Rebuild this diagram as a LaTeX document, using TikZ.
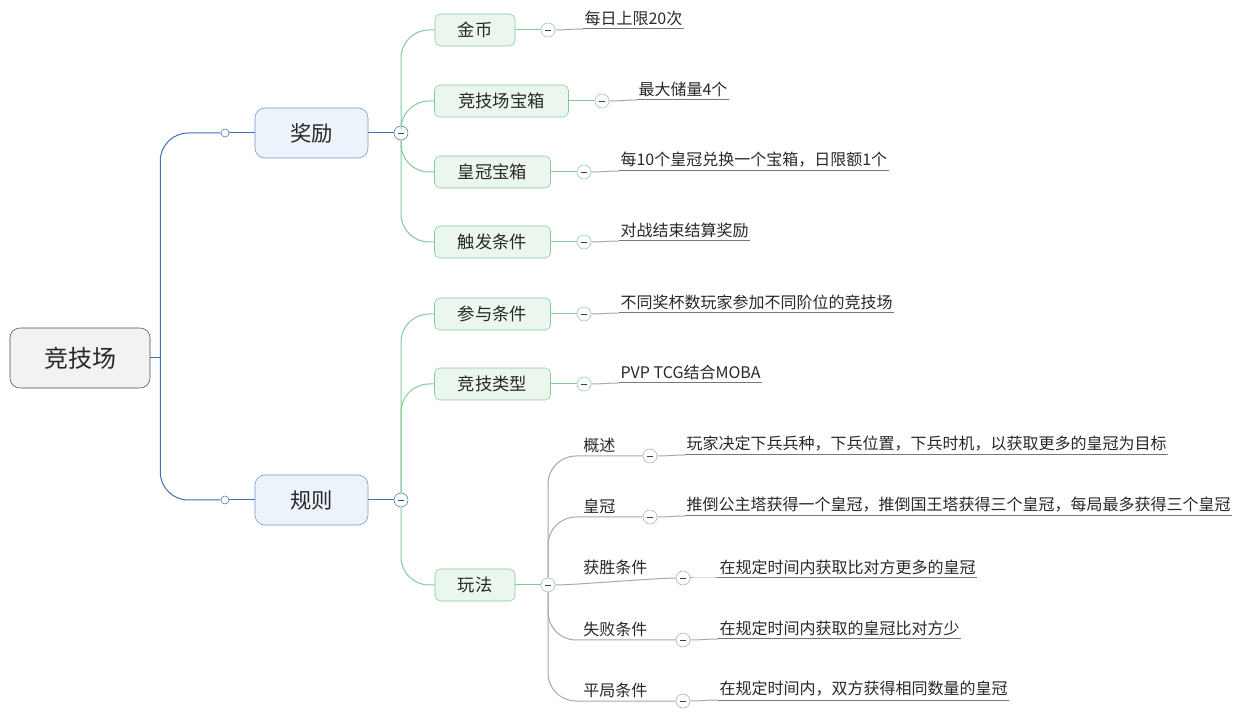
\documentclass[tikz,border=0pt]{standalone}
\usepackage{fontspec}
\setmainfont{Noto Sans CJK SC}
\definecolor{blu}{RGB}{62,112,182}
\definecolor{bluf}{RGB}{237,243,251}
\definecolor{blub}{RGB}{112,150,204}
\definecolor{grn}{RGB}{132,202,154}
\definecolor{grnf}{RGB}{235,246,239}
\definecolor{gry}{RGB}{168,168,168}
\definecolor{dkg}{RGB}{120,120,120}
\definecolor{txt}{RGB}{40,40,40}

\begin{document}
\begin{tikzpicture}[x=0.75pt,y=-0.75pt,text=txt,
  root/.style={draw=black!70,fill=black!5,rounded corners=7.5pt,minimum width=105pt,minimum height=45pt,font=\fontsize{18}{20}\selectfont},
  main/.style={draw=blub,fill=bluf,rounded corners=7.5pt,minimum width=84.75pt,minimum height=37.5pt,font=\fontsize{16}{18}\selectfont},
  sub/.style={draw=grn,fill=grnf,rounded corners=4pt,minimum height=24pt,font=\fontsize{13}{15}\selectfont},
  leaf/.style={anchor=south west,inner xsep=1pt,inner ysep=2.5pt,font=\fontsize{12}{14}\selectfont},
  tpc/.style={leaf,inner xsep=0pt},
  fold/.style={circle,draw=#1,fill=white,minimum size=10.5pt,inner sep=0pt,path picture={\draw[line width=0.6pt,black!75] ([xshift=-2.6pt]path picture bounding box.center) -- ([xshift=2.6pt]path picture bounding box.center);}},
  dot/.style={circle,draw=blu,fill=white,minimum size=6pt,inner sep=0pt},
  bl/.style={blu,line width=0.75pt},
  gl/.style={grn,line width=0.75pt},
  lt/.style={gry,line width=0.75pt},
  ul/.style={dkg,line width=0.75pt}]
\useasboundingbox (0,0) rectangle (1240,716);
\node[root] (R) at (80,358) {竞技场};
\node[main] (J) at (311.5,133) {奖励};
\node[main] (G) at (311.5,500) {规则};
\node[dot] (d1) at (225,133) {};
\node[dot] (d2) at (225,500) {};
\node[fold=blu] (fJ) at (401,133) {};
\node[fold=blu] (fG) at (401,500) {};
\node[sub,minimum width=60pt] (jb) at (475,30) {金币};
\node[sub,minimum width=100.5pt] (bx) at (501.5,101) {竞技场宝箱};
\node[sub,minimum width=87pt] (hg) at (492.5,172) {皇冠宝箱};
\node[sub,minimum width=87pt] (cf) at (492.5,242) {触发条件};
\node[sub,minimum width=87pt] (cy) at (492.5,314) {参与条件};
\node[sub,minimum width=87pt] (lx) at (492.5,384) {竞技类型};
\node[sub,minimum width=60pt] (wf) at (475,585) {玩法};
\node[fold=grn] (f1) at (548,30) {};
\node[fold=grn] (f2) at (602,101) {};
\node[fold=grn] (f3) at (584,172) {};
\node[fold=grn] (f4) at (584,242) {};
\node[fold=grn] (f5) at (584,314) {};
\node[fold=grn] (f6) at (584,384) {};
\node[fold=grn] (fW) at (548,585) {};
\node[leaf] (l1) at (583,29) {每日上限20次};
\node[leaf] (l2) at (637,100) {最大储量4个};
\node[leaf] (l3) at (619,171) {每10个皇冠兑换一个宝箱，日限额1个};
\node[leaf] (l4) at (619,241) {对战结束结算奖励};
\node[leaf] (l5) at (619,313) {不同奖杯数玩家参加不同阶位的竞技场};
\node[leaf] (l6) at (619,383) {PVP TCG结合MOBA};
\node[fold=gry] (k1) at (650,456) {};
\node[fold=gry] (k2) at (650,517) {};
\node[fold=gry] (k3) at (683,578) {};
\node[fold=gry] (k4) at (683,640) {};
\node[fold=gry] (k5) at (683,701) {};
\node[tpc] (t1) at (583,456) {概述};
\node[tpc] (t2) at (583,517) {皇冠};
\node[tpc] (t3) at (583,578) {获胜条件};
\node[tpc] (t4) at (583,640) {失败条件};
\node[tpc] (t5) at (583,701) {平局条件};
\node[leaf] (m1) at (685,455) {玩家决定下兵兵种，下兵位置，下兵时机，以获取更多的皇冠为目标};
\node[leaf] (m2) at (685,516) {推倒公主塔获得一个皇冠，推倒国王塔获得三个皇冠，每局最多获得三个皇冠};
\node[leaf] (m3) at (718,578) {在规定时间内获取比对方更多的皇冠};
\node[leaf] (m4) at (718,639) {在规定时间内获取的皇冠比对方少};
\node[leaf] (m5) at (718,700) {在规定时间内，双方获得相同数量的皇冠};
\draw[bl] (R.east) -- ++(10,0) coordinate (rj);
\draw[bl,rounded corners=21pt] (rj) |- (d1.west);
\draw[bl,rounded corners=21pt] (rj) |- (d2.west);
\draw[bl] (d1.east) -- (J.west);
\draw[bl] (d2.east) -- (G.west);
\draw[bl] (J.east) -- (fJ.west);
\draw[bl] (G.east) -- (fG.west);
\draw[gl,rounded corners=21pt] (fJ.north) |- (jb.west);
\draw[gl,rounded corners=21pt] (fJ.north) |- (bx.west);
\draw[gl,rounded corners=21pt] (fJ.south) |- (hg.west);
\draw[gl,rounded corners=21pt] (fJ.south) |- (cf.west);
\draw[gl,rounded corners=21pt] (fG.north) |- (cy.west);
\draw[gl,rounded corners=21pt] (fG.north) |- (lx.west);
\draw[gl,rounded corners=21pt] (fG.south) |- (wf.west);
\draw[gl] (jb.east) -- (f1.west);
\draw[gl] (bx.east) -- (f2.west);
\draw[gl] (hg.east) -- (f3.west);
\draw[gl] (cf.east) -- (f4.west);
\draw[gl] (cy.east) -- (f5.west);
\draw[gl] (lx.east) -- (f6.west);
\draw[gl] (wf.east) -- (fW.west);
\draw[lt] (f1.east) to[out=0,in=180] (l1.south west);
\draw[lt] (f2.east) to[out=0,in=180] (l2.south west);
\draw[lt] (f3.east) to[out=0,in=180] (l3.south west);
\draw[lt] (f4.east) to[out=0,in=180] (l4.south west);
\draw[lt] (f5.east) to[out=0,in=180] (l5.south west);
\draw[lt] (f6.east) to[out=0,in=180] (l6.south west);
\draw[lt,rounded corners=21pt] (fW.north) |- (k1.west);
\draw[lt,rounded corners=21pt] (fW.north) |- (k2.west);
\draw[lt] (fW.east) to[out=0,in=180,looseness=0.4] (k3.west);
\draw[lt,rounded corners=21pt] (fW.south) |- (k4.west);
\draw[lt,rounded corners=21pt] (fW.south) |- (k5.west);
\draw[lt] (k1.east) to[out=0,in=180] (m1.south west);
\draw[lt] (k2.east) to[out=0,in=180] (m2.south west);
\draw[lt] (k3.east) to[out=0,in=180] (m3.south west);
\draw[lt] (k4.east) to[out=0,in=180] (m4.south west);
\draw[lt] (k5.east) to[out=0,in=180] (m5.south west);
\draw[ul] (l1.south west) -- (l1.south east);
\draw[ul] (l2.south west) -- (l2.south east);
\draw[ul] (l3.south west) -- (l3.south east);
\draw[ul] (l4.south west) -- (l4.south east);
\draw[ul] (l5.south west) -- (l5.south east);
\draw[ul] (l6.south west) -- (l6.south east);
\draw[ul] (m1.south west) -- (m1.south east);
\draw[ul] (m2.south west) -- (m2.south east);
\draw[ul] (m3.south west) -- (m3.south east);
\draw[ul] (m4.south west) -- (m4.south east);
\draw[ul] (m5.south west) -- (m5.south east);
\end{tikzpicture}
\end{document}
